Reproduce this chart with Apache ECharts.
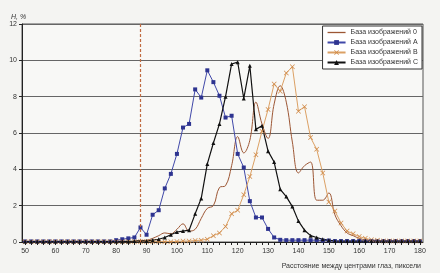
<!DOCTYPE html>
<html>
<head>
<meta charset="utf-8">
<script src="https://cdn.jsdelivr.net/npm/echarts@6/dist/echarts.min.js"></script>
<style>
  html, body { margin: 0; padding: 0; background: #f4f4f2; }
  #chart { width: 440px; height: 273px; }
</style>
</head>
<body>
<div id="chart"></div>
<script>
// расстояние между центрами глаз, шаг 2 пикселя
const distances = []
for (let d = 50; d <= 180; d += 2) distances.push(d)

const xLabels = [50, 60, 70, 80, 90, 100, 110, 120, 130, 140, 150, 160, 170, 180]
const thresholdX = 88

// База изображений 0 (гладкая линия)
const base0 = [
  0.02, 0.02, 0.02, 0.02, 0.02, 0.02, 0.02, 0.02, 0.02, 0.02,
  0.02, 0.02, 0.02, 0.02, 0.02, 0.02, 0.02, 0.02, 0.02, 0.08,
  0.1, 0.2, 0.35, 0.5, 0.45, 0.7, 1.0, 0.6, 0.7, 1.3,
  1.85, 2.0, 3.0, 3.1, 4.2, 5.8, 4.9, 5.6, 7.7, 6.5,
  5.7, 7.6, 8.6, 7.7, 5.5, 3.8, 4.2, 4.4, 2.3, 2.3,
  2.7, 1.5, 0.9, 0.5, 0.35, 0.2, 0.12, 0.1, 0.05, 0.05,
  0.05, 0.05, 0.05, 0.05, 0.05, 0.05
]
// База изображений A
const baseA = [
  0.03, 0.03, 0.03, 0.03, 0.03, 0.03, 0.03, 0.03, 0.03, 0.03,
  0.03, 0.03, 0.03, 0.03, 0.03, 0.1, 0.15, 0.2, 0.25, 0.8,
  0.4, 1.5, 1.75, 2.95, 3.75, 4.85, 6.3, 6.5, 8.4, 7.95,
  9.45, 8.8, 8.05, 6.85, 6.95, 4.85, 4.1, 2.25, 1.35, 1.35,
  0.72, 0.25, 0.12, 0.1, 0.1, 0.1, 0.1, 0.1, 0.1, 0.08,
  0.08, 0.05, 0.05, 0.05, 0.05, 0.05, 0.05, 0.05, 0.05, 0.05,
  0.05, 0.05, 0.05, 0.05, 0.05, 0.05
]
// База изображений B
const baseB = [
  0.02, 0.02, 0.02, 0.02, 0.02, 0.02, 0.02, 0.02, 0.02, 0.02,
  0.02, 0.02, 0.02, 0.02, 0.02, 0.02, 0.02, 0.02, 0.02, 0.02,
  0.02, 0.02, 0.02, 0.02, 0.02, 0.03, 0.05, 0.05, 0.08, 0.1,
  0.15, 0.35, 0.5, 0.85, 1.55, 1.75, 2.6, 3.6, 4.8, 6.1,
  7.3, 8.7, 8.3, 9.3, 9.65, 7.2, 7.45, 5.75, 5.1, 3.8,
  2.2, 1.7, 1.05, 0.6, 0.45, 0.3, 0.2, 0.12, 0.1, 0.05,
  0.05, 0.05, 0.05, 0.05, 0.05, 0.05
]
// База изображений C
const baseC = [
  0.03, 0.03, 0.03, 0.03, 0.03, 0.03, 0.03, 0.03, 0.03, 0.03,
  0.03, 0.03, 0.03, 0.03, 0.03, 0.03, 0.03, 0.03, 0.05, 0.08,
  0.05, 0.1, 0.15, 0.25, 0.4, 0.55, 0.6, 0.65, 1.55, 2.4,
  4.3, 5.45, 6.5, 8.0, 9.8, 9.9, 7.9, 9.7, 6.2, 6.4,
  5.0, 4.4, 2.9, 2.5, 1.95, 1.15, 0.65, 0.35, 0.25, 0.15,
  0.1, 0.05, 0.05, 0.05, 0.05, 0.05, 0.05, 0.05, 0.05, 0.05,
  0.05, 0.05, 0.05, 0.05, 0.05, 0.05
]

const pairs = arr => distances.map((d, i) => [d, arr[i]])
const crossSymbol = 'path://M0,1L1,0L5,4L9,0L10,1L6,5L10,9L9,10L5,6L1,10L0,9L4,5Z'
const lineIcon = 'path://M0,0L18,0L18,1.3L0,1.3Z'

const minorTicks = distances.slice()

const chart = echarts.init(document.getElementById('chart'))
chart.setOption({
  backgroundColor: '#f4f4f2',
  animation: false,
  title: [
    {
      text: 'H, %',
      left: 6, top: 9,
      textStyle: { fontSize: 7, fontWeight: 'normal', color: '#333', fontFamily: 'Arial', fontStyle: 'italic' }
    },
    {
      text: 'Расстояние между центрами глаз, пиксели',
      right: 14, top: 258,
      textStyle: { fontSize: 7, fontWeight: 'normal', color: '#333', fontFamily: 'Arial' }
    }
  ],
  grid: {
    left: 22, right: 17, top: 24, bottom: 31,
    show: true, backgroundColor: '#f8f8f6', borderColor: '#555', borderWidth: 1
  },
  legend: {
    right: 18, top: 26,
    orient: 'vertical',
    itemWidth: 18, itemHeight: 6, itemGap: 3,
    backgroundColor: '#fff', borderColor: '#333', borderWidth: 1,
    padding: [3, 4, 3, 4],
    textStyle: { fontSize: 7, color: '#333', fontFamily: 'Arial' },
    data: [
      { name: 'База изображений 0', icon: lineIcon, itemHeight: 1.3 },
      'База изображений A', 'База изображений B', 'База изображений C'
    ]
  },
  xAxis: {
    type: 'value', min: 49, max: 181,
    axisLine: { lineStyle: { color: '#222', width: 1 } },
    axisTick: { customValues: minorTicks, length: 3, lineStyle: { color: '#222' } },
    axisLabel: { customValues: xLabels, fontSize: 7, color: '#333', margin: 6, fontFamily: 'Arial' },
    splitLine: { show: false }
  },
  yAxis: {
    type: 'value', min: 0, max: 12, interval: 2,
    axisLine: { show: true, lineStyle: { color: '#222' } },
    axisTick: { show: true, length: 3, inside: false, lineStyle: { color: '#222' } },
    axisLabel: { fontSize: 7, color: '#333', margin: 5, fontFamily: 'Arial' },
    splitLine: { lineStyle: { color: '#666', width: 1.2 } }
  },
  series: [
    {
      name: 'База изображений 0', type: 'line', data: pairs(base0),
      smooth: 0.4, symbol: 'none',
      lineStyle: { color: '#9c5634', width: 1 }, itemStyle: { color: '#9c5634' },
      markLine: {
        silent: true, symbol: 'none', label: { show: false },
        lineStyle: { color: '#c06a40', type: [3, 2], width: 1.2 },
        data: [{ xAxis: thresholdX }]
      }
    },
    {
      name: 'База изображений A', type: 'line', data: pairs(baseA),
      symbol: 'rect', symbolSize: 4,
      lineStyle: { color: '#4048a8', width: 1 }, itemStyle: { color: '#2e3490' }
    },
    {
      name: 'База изображений B', type: 'line', data: pairs(baseB),
      symbol: crossSymbol, symbolSize: 5,
      lineStyle: { color: '#dba064', width: 1 }, itemStyle: { color: '#d08a48' }
    },
    {
      name: 'База изображений C', type: 'line', data: pairs(baseC),
      symbol: 'triangle', symbolSize: 4,
      lineStyle: { color: '#111', width: 1.2 }, itemStyle: { color: '#111' }
    }
  ]
})
</script>
</body>
</html>
